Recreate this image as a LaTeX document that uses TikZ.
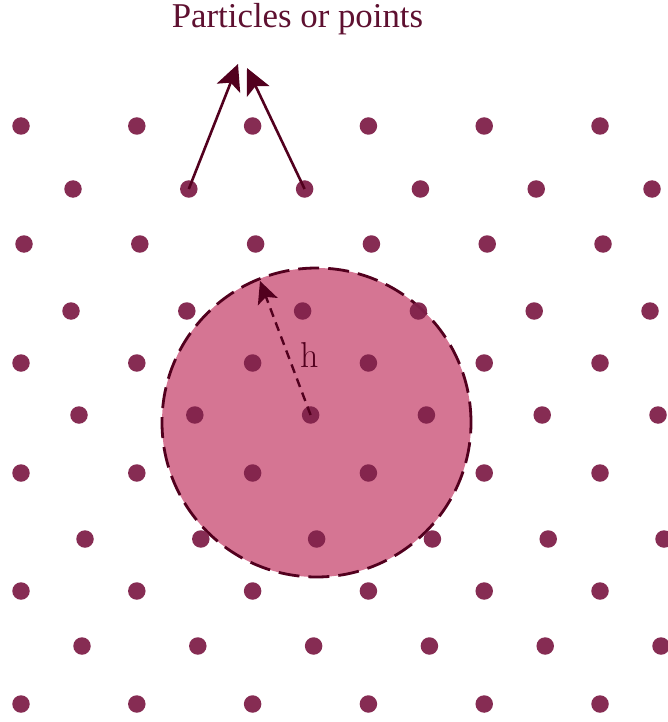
\documentclass[tikz,border=0pt]{standalone}
\usepackage{fontspec}
\usepackage{tikz}
\usetikzlibrary{arrows.meta}
\newfontfamily\titlefont{Liberation Serif}
\definecolor{dotcol}{HTML}{80214A}
\definecolor{zonecol}{HTML}{D57593}
\definecolor{inkcol}{HTML}{52001E}
\definecolor{textcol}{HTML}{5E1030}

\tikzset{
  dot/.style={circle,fill=dotcol,fill opacity=0.95,inner sep=0pt,minimum size=17.5pt},
  zone/.style={circle,fill=zonecol,draw=inkcol,line width=2.8pt,dash pattern=on 21pt off 9pt,inner sep=0pt,minimum size=309pt},
  ptarrow/.style={draw=inkcol,line width=2.6pt,-{Stealth[length=26pt,width=25pt,inset=6pt]}},
  radarrow/.style={draw=inkcol,line width=2.4pt,dash pattern=on 9pt off 6pt,-{Stealth[length=22pt,width=21pt,inset=5pt]}}
}

\begin{document}
\begin{tikzpicture}[x=1pt,y=-1pt]
\useasboundingbox (0,0) rectangle (667,722);
% kernel support
\node[zone] (zone) at (316.5,422.5) {};
% particle lattice, row / y / first x
\foreach \r/\yy/\xx in {1/126/21, 2/189/73, 3/244/24, 4/311/71, 5/363/21, 6/415/79,
                        7/473/21, 8/539/85, 9/591/21, 10/646/82, 11/704/21}
  \foreach \c in {0,...,5}
    \node[dot] (p\r-\c) at ({\xx+115.8*\c},\yy) {};
% title and pointers
\node[anchor=base,text=textcol,font=\titlefont\fontsize{34.8}{40}\selectfont] (title) at (297.5,28) {Particles or points};
\coordinate (tipL) at (238,64);
\coordinate (tipR) at (247,68);
\draw[ptarrow] (p2-1.center) -- (tipL);
\draw[ptarrow] (p2-2.center) -- (tipR);
% smoothing length
\coordinate (hend) at (260,281);
\draw[radarrow] (p6-2.center) -- (hend);
\node[text=inkcol,font=\fontsize{36}{40}\selectfont] (hlab) at (310,355) {h};
\end{tikzpicture}
\end{document}
